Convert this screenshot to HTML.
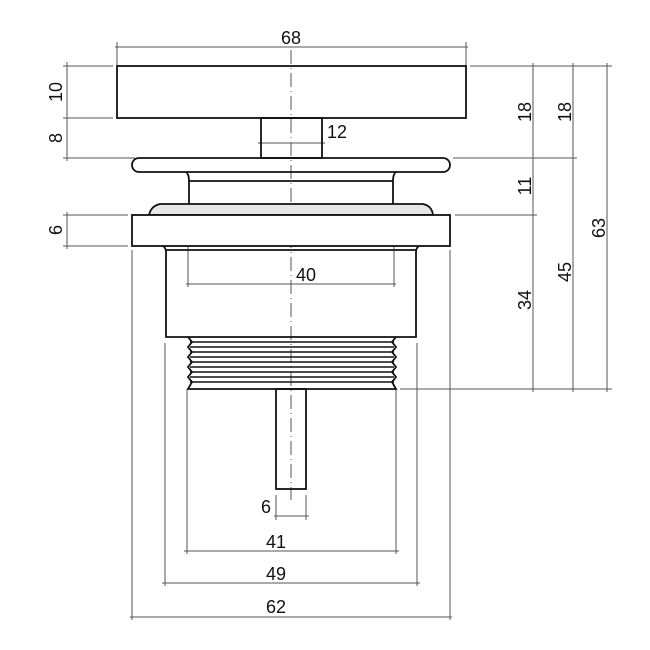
<!DOCTYPE html>
<html><head><meta charset="utf-8"><style>
html,body{margin:0;padding:0;background:#fff;width:650px;height:650px;overflow:hidden}
text{font-family:"Liberation Sans",sans-serif;font-size:18px;fill:#111}
</style></head><body>
<svg width="650" height="650" viewBox="0 0 650 650" xmlns="http://www.w3.org/2000/svg">
<g fill="none" stroke="#555" stroke-width="1">
<line x1="291" y1="50" x2="291" y2="500" stroke-dasharray="14,4,1,4"/>
<line x1="117" y1="42" x2="117" y2="66"/><line x1="466" y1="42" x2="466" y2="66"/>
<line x1="115" y1="47" x2="468" y2="47"/>
<line x1="63" y1="66" x2="113" y2="66"/><line x1="63" y1="118" x2="113" y2="118"/>
<line x1="63" y1="158" x2="135" y2="158"/>
<line x1="67" y1="62" x2="67" y2="161"/>
<line x1="63" y1="215" x2="128" y2="215"/><line x1="63" y1="246" x2="128" y2="246"/>
<line x1="67" y1="212" x2="67" y2="249"/>
<line x1="470" y1="66" x2="612" y2="66"/>
<line x1="453" y1="158" x2="577" y2="158"/>
<line x1="455" y1="215" x2="537" y2="215"/>
<line x1="400" y1="389" x2="612" y2="389"/>
<line x1="533" y1="63" x2="533" y2="392"/>
<line x1="573" y1="63" x2="573" y2="392"/>
<line x1="607" y1="63" x2="607" y2="392"/>
<line x1="258" y1="143" x2="325" y2="143"/>
<line x1="188" y1="215" x2="188" y2="287"/><line x1="394" y1="215" x2="394" y2="287"/>
<line x1="186" y1="284" x2="396" y2="284"/>
<line x1="276" y1="495" x2="276" y2="520"/><line x1="306" y1="495" x2="306" y2="520"/>
<line x1="274" y1="516" x2="309" y2="516"/>
<line x1="187" y1="389" x2="187" y2="554"/><line x1="396" y1="389" x2="396" y2="554"/>
<line x1="184" y1="551" x2="399" y2="551"/>
<line x1="165" y1="343" x2="165" y2="586"/><line x1="417" y1="343" x2="417" y2="586"/>
<line x1="162" y1="583" x2="420" y2="583"/>
<line x1="132" y1="250" x2="132" y2="620"/><line x1="450" y1="250" x2="450" y2="620"/>
<line x1="130" y1="617" x2="452" y2="617"/>
</g>
<g fill="none" stroke="#111" stroke-width="1.8">
<rect x="117" y="66" width="349" height="52"/>
<rect x="261" y="118" width="61" height="40"/>
<rect x="132" y="158" width="318" height="14" rx="7"/>
<path d="M186 172 Q189 174 189 181 L189 204 M396 172 Q393 174 393 181 L393 204"/>
<line x1="189" y1="181" x2="393" y2="181"/>
<path d="M149 215 Q151 206 160 204 L423 204 Q432 206 433 215 Z" fill="#e6e6e6"/>
<rect x="132" y="215" width="318" height="31" fill="#fff"/>
<path d="M163 246 Q166 248 166 252 L166 337 L416 337 L416 252 Q416 248 419 246"/>
<line x1="166" y1="250" x2="416" y2="250"/>
<path d="M188 337 L192 342 L188 347 L192 352 L188 357 L192 362 L188 367 L192 372 L188 377 L192 382 L188 389 L396 389 L392 382 L396 377 L392 372 L396 367 L392 362 L396 357 L392 352 L396 347 L392 342 L396 337"/>
<g stroke-width="1.4"><line x1="190" y1="342" x2="394" y2="342"/><line x1="190" y1="347" x2="394" y2="347"/><line x1="190" y1="352" x2="394" y2="352"/><line x1="190" y1="357" x2="394" y2="357"/><line x1="190" y1="362" x2="394" y2="362"/><line x1="190" y1="367" x2="394" y2="367"/><line x1="190" y1="372" x2="394" y2="372"/><line x1="190" y1="377" x2="394" y2="377"/><line x1="190" y1="382" x2="394" y2="382"/></g>
<rect x="276" y="389" width="30" height="100"/>
</g>
<text x="291" y="44" text-anchor="middle">68</text>
<text x="327" y="138">12</text>
<text x="306" y="281" text-anchor="middle">40</text>
<text x="266" y="513" text-anchor="middle">6</text>
<text x="276" y="548" text-anchor="middle">41</text>
<text x="276" y="580" text-anchor="middle">49</text>
<text x="276" y="613" text-anchor="middle">62</text>
<g>
<text transform="translate(62,92) rotate(-90)" text-anchor="middle">10</text>
<text transform="translate(62,138) rotate(-90)" text-anchor="middle">8</text>
<text transform="translate(62,230) rotate(-90)" text-anchor="middle">6</text>
<text transform="translate(531,112) rotate(-90)" text-anchor="middle">18</text>
<text transform="translate(531,186) rotate(-90)" text-anchor="middle">11</text>
<text transform="translate(531,300) rotate(-90)" text-anchor="middle">34</text>
<text transform="translate(571,112) rotate(-90)" text-anchor="middle">18</text>
<text transform="translate(571,272) rotate(-90)" text-anchor="middle">45</text>
<text transform="translate(605,228) rotate(-90)" text-anchor="middle">63</text>
</g>
</svg>
</body></html>
